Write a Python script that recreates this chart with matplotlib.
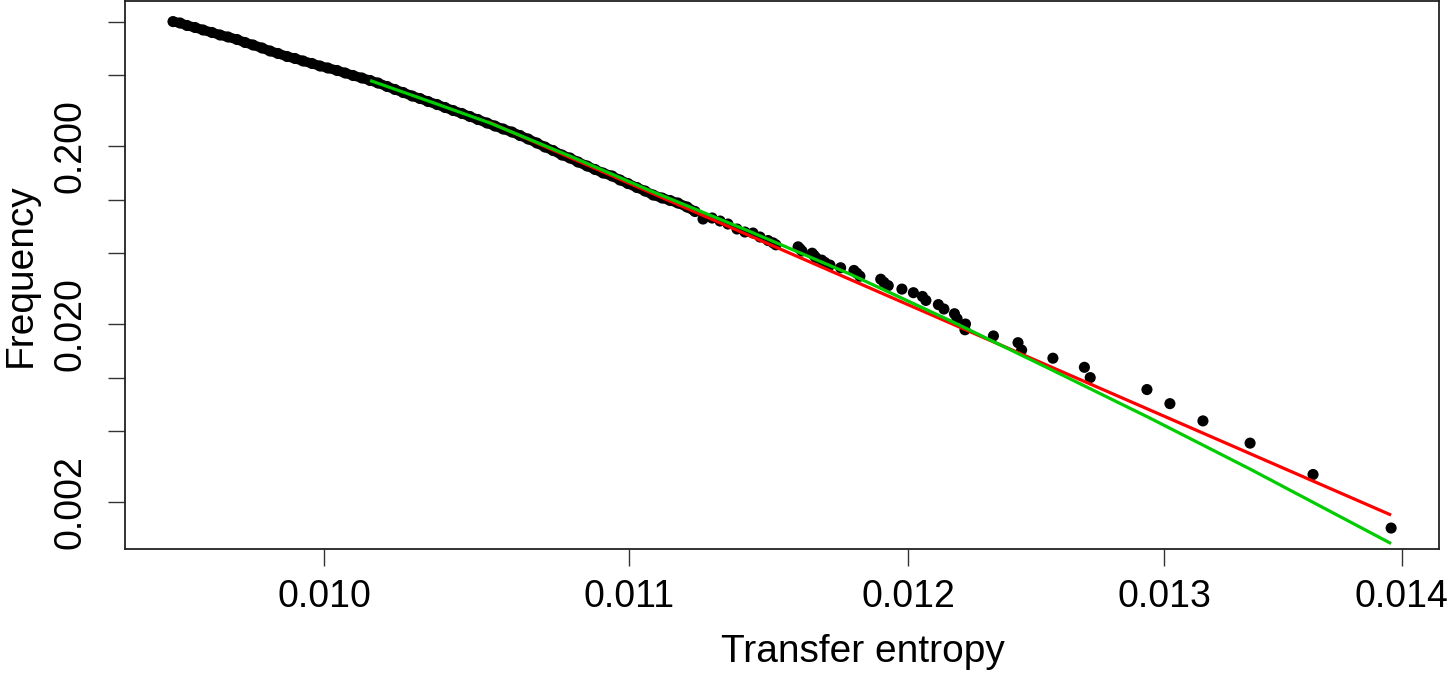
import matplotlib
matplotlib.use("Agg")
import matplotlib.pyplot as plt
from matplotlib.ticker import FixedLocator, FixedFormatter, NullLocator

plt.rcParams['font.family'] = ['Liberation Sans', 'DejaVu Sans']

# Empirical CCDF points: transfer entropy value and fraction of values >= it
te_values = [
    0.013953, 0.013617, 0.013352, 0.013157, 0.013022, 0.012929, 0.012702, 0.012679,
    0.012555, 0.012433, 0.012419, 0.012324, 0.012215, 0.012217, 0.012185, 0.012175,
    0.012135, 0.012114, 0.012067, 0.012054, 0.012020, 0.011977, 0.011926, 0.011910,
    0.011898, 0.011821, 0.011810, 0.011799, 0.011750, 0.011711, 0.011693, 0.011681,
    0.011660, 0.011653, 0.011646, 0.011609, 0.011602, 0.011595, 0.011515, 0.011505,
    0.011487, 0.011458, 0.011433, 0.011404, 0.011376, 0.011344, 0.011316, 0.011288,
    0.011256, 0.011228, 0.011200, 0.011168, 0.011141, 0.011113, 0.011082, 0.011054,
    0.011026, 0.010995, 0.010968, 0.010941, 0.010910, 0.010883, 0.010856, 0.010825,
    0.010798, 0.010771, 0.010741, 0.010714, 0.010687, 0.010658, 0.010631, 0.010604,
    0.010575, 0.010548, 0.010522, 0.010492, 0.010466, 0.010440, 0.010411, 0.010385,
    0.010359, 0.010330, 0.010304, 0.010279, 0.010250, 0.010224, 0.010199, 0.010170,
    0.010145, 0.010119, 0.010091, 0.010066, 0.010041, 0.010012, 0.0099875, 0.0099626,
    0.0099347, 0.0099099, 0.0098852, 0.0098574, 0.0098329, 0.0098083, 0.0097808, 0.0097564,
    0.0097321, 0.0097048, 0.0096806, 0.0096564, 0.0096294, 0.0096053, 0.0095814, 0.0095605,
    0.0095396,
]
frequency = [
    0.001429, 0.002857, 0.004286, 0.005714, 0.007143, 0.008571, 0.010000, 0.011429,
    0.012857, 0.014286, 0.015714, 0.017143, 0.018571, 0.020000, 0.021429, 0.022857,
    0.024286, 0.025714, 0.027143, 0.028571, 0.030000, 0.031429, 0.032857, 0.034286,
    0.035714, 0.037143, 0.038571, 0.040000, 0.041429, 0.042857, 0.044286, 0.045714,
    0.047143, 0.048571, 0.050000, 0.051429, 0.052857, 0.054286, 0.055714, 0.057143,
    0.05891, 0.06164, 0.06491, 0.06576, 0.06836, 0.07292, 0.07581, 0.07881,
    0.07780, 0.08573, 0.09087, 0.09570, 0.09884, 0.10209, 0.10613, 0.11177,
    0.11695, 0.12316, 0.12886, 0.13570, 0.14107, 0.14760, 0.15444, 0.16264,
    0.17128, 0.17806, 0.18873, 0.19747, 0.20796, 0.21901, 0.22915, 0.23976,
    0.24925, 0.25911, 0.26936, 0.28184, 0.29299, 0.30459, 0.31664, 0.32917,
    0.34219, 0.35573, 0.36981, 0.38196, 0.39965, 0.41547, 0.43191, 0.45193,
    0.46678, 0.48212, 0.49797, 0.51433, 0.53124, 0.54870, 0.56308, 0.58159,
    0.60070, 0.62045, 0.63671, 0.66190, 0.68365, 0.71070, 0.73882, 0.76311,
    0.79331, 0.81938, 0.84085, 0.86849, 0.89704, 0.92652, 0.95080, 0.98205,
    1.00000,
]
# index from which the points overlap into a continuous band
dense_start = 49

# Power-law fit (red)
pl_x = [0.010525, 0.013953]
pl_y = [0.27394, 0.0016910]

# Log-normal fit (green)
ln_x = [0.010145, 0.010336, 0.010532, 0.010798, 0.011071, 0.011422, 0.011784,
        0.012158, 0.012544, 0.012941, 0.013352, 0.013953]
ln_y = [0.46678, 0.35573, 0.26936, 0.17577, 0.11249, 0.06619, 0.038197,
        0.020931, 0.011177, 0.0059276, 0.0030649, 0.0011697]

x_ticks = [0.010, 0.011, 0.012, 0.013, 0.014]
x_labels = ["0.010", "0.011", "0.012", "0.013", "0.014"]
y_ticks = [1.0, 0.5, 0.2, 0.1, 0.05, 0.02, 0.01, 0.005, 0.002]
y_labels = ["", "", "0.200", "", "", "0.020", "", "", "0.002"]

fig = plt.figure(figsize=(14.5, 6.74), dpi=100)
ax = fig.add_axes([0.0862, 0.1854, 0.9062, 0.8124])
ax.set_xscale('log')
ax.set_yscale('log')

ax.scatter(te_values, frequency, s=64, color='black', edgecolors='none', zorder=2)
# overlapping dense points form a solid band
ax.plot(te_values[dense_start:], frequency[dense_start:], color='black', lw=7.0,
        solid_capstyle='round', solid_joinstyle='round', zorder=2)
ax.plot(pl_x, pl_y, color='#ff0000', lw=2.3, zorder=3, solid_capstyle='butt')
ax.plot(ln_x, ln_y, color='#00cc00', lw=2.3, zorder=4, solid_capstyle='butt')

ax.set_xlim(0.0093977, 0.014163)
ax.set_ylim(0.0010893, 1.29695)

ax.xaxis.set_major_locator(FixedLocator(x_ticks))
ax.xaxis.set_major_formatter(FixedFormatter(x_labels))
ax.xaxis.set_minor_locator(NullLocator())
ax.yaxis.set_major_locator(FixedLocator(y_ticks))
ax.yaxis.set_major_formatter(FixedFormatter(y_labels))
ax.yaxis.set_minor_locator(NullLocator())

ax.tick_params(axis='both', which='major', direction='out', length=12.5, width=1.0,
               color='#333333', labelsize=27)
ax.tick_params(axis='x', pad=9)
ax.tick_params(axis='y', pad=14, labelrotation=90)
for lab in ax.get_yticklabels():
    lab.set_verticalalignment('center')

for sp in ax.spines.values():
    sp.set_linewidth(1.3)
    sp.set_color('#222222')

ax.set_xlabel("Transfer entropy", fontsize=28)
ax.xaxis.set_label_coords(0.5617, -0.188, transform=ax.transAxes)
ax.xaxis.label.set_verticalalignment('center')
ax.set_ylabel("Frequency", fontsize=28, labelpad=10)

fig.savefig("out.png", dpi=100)
